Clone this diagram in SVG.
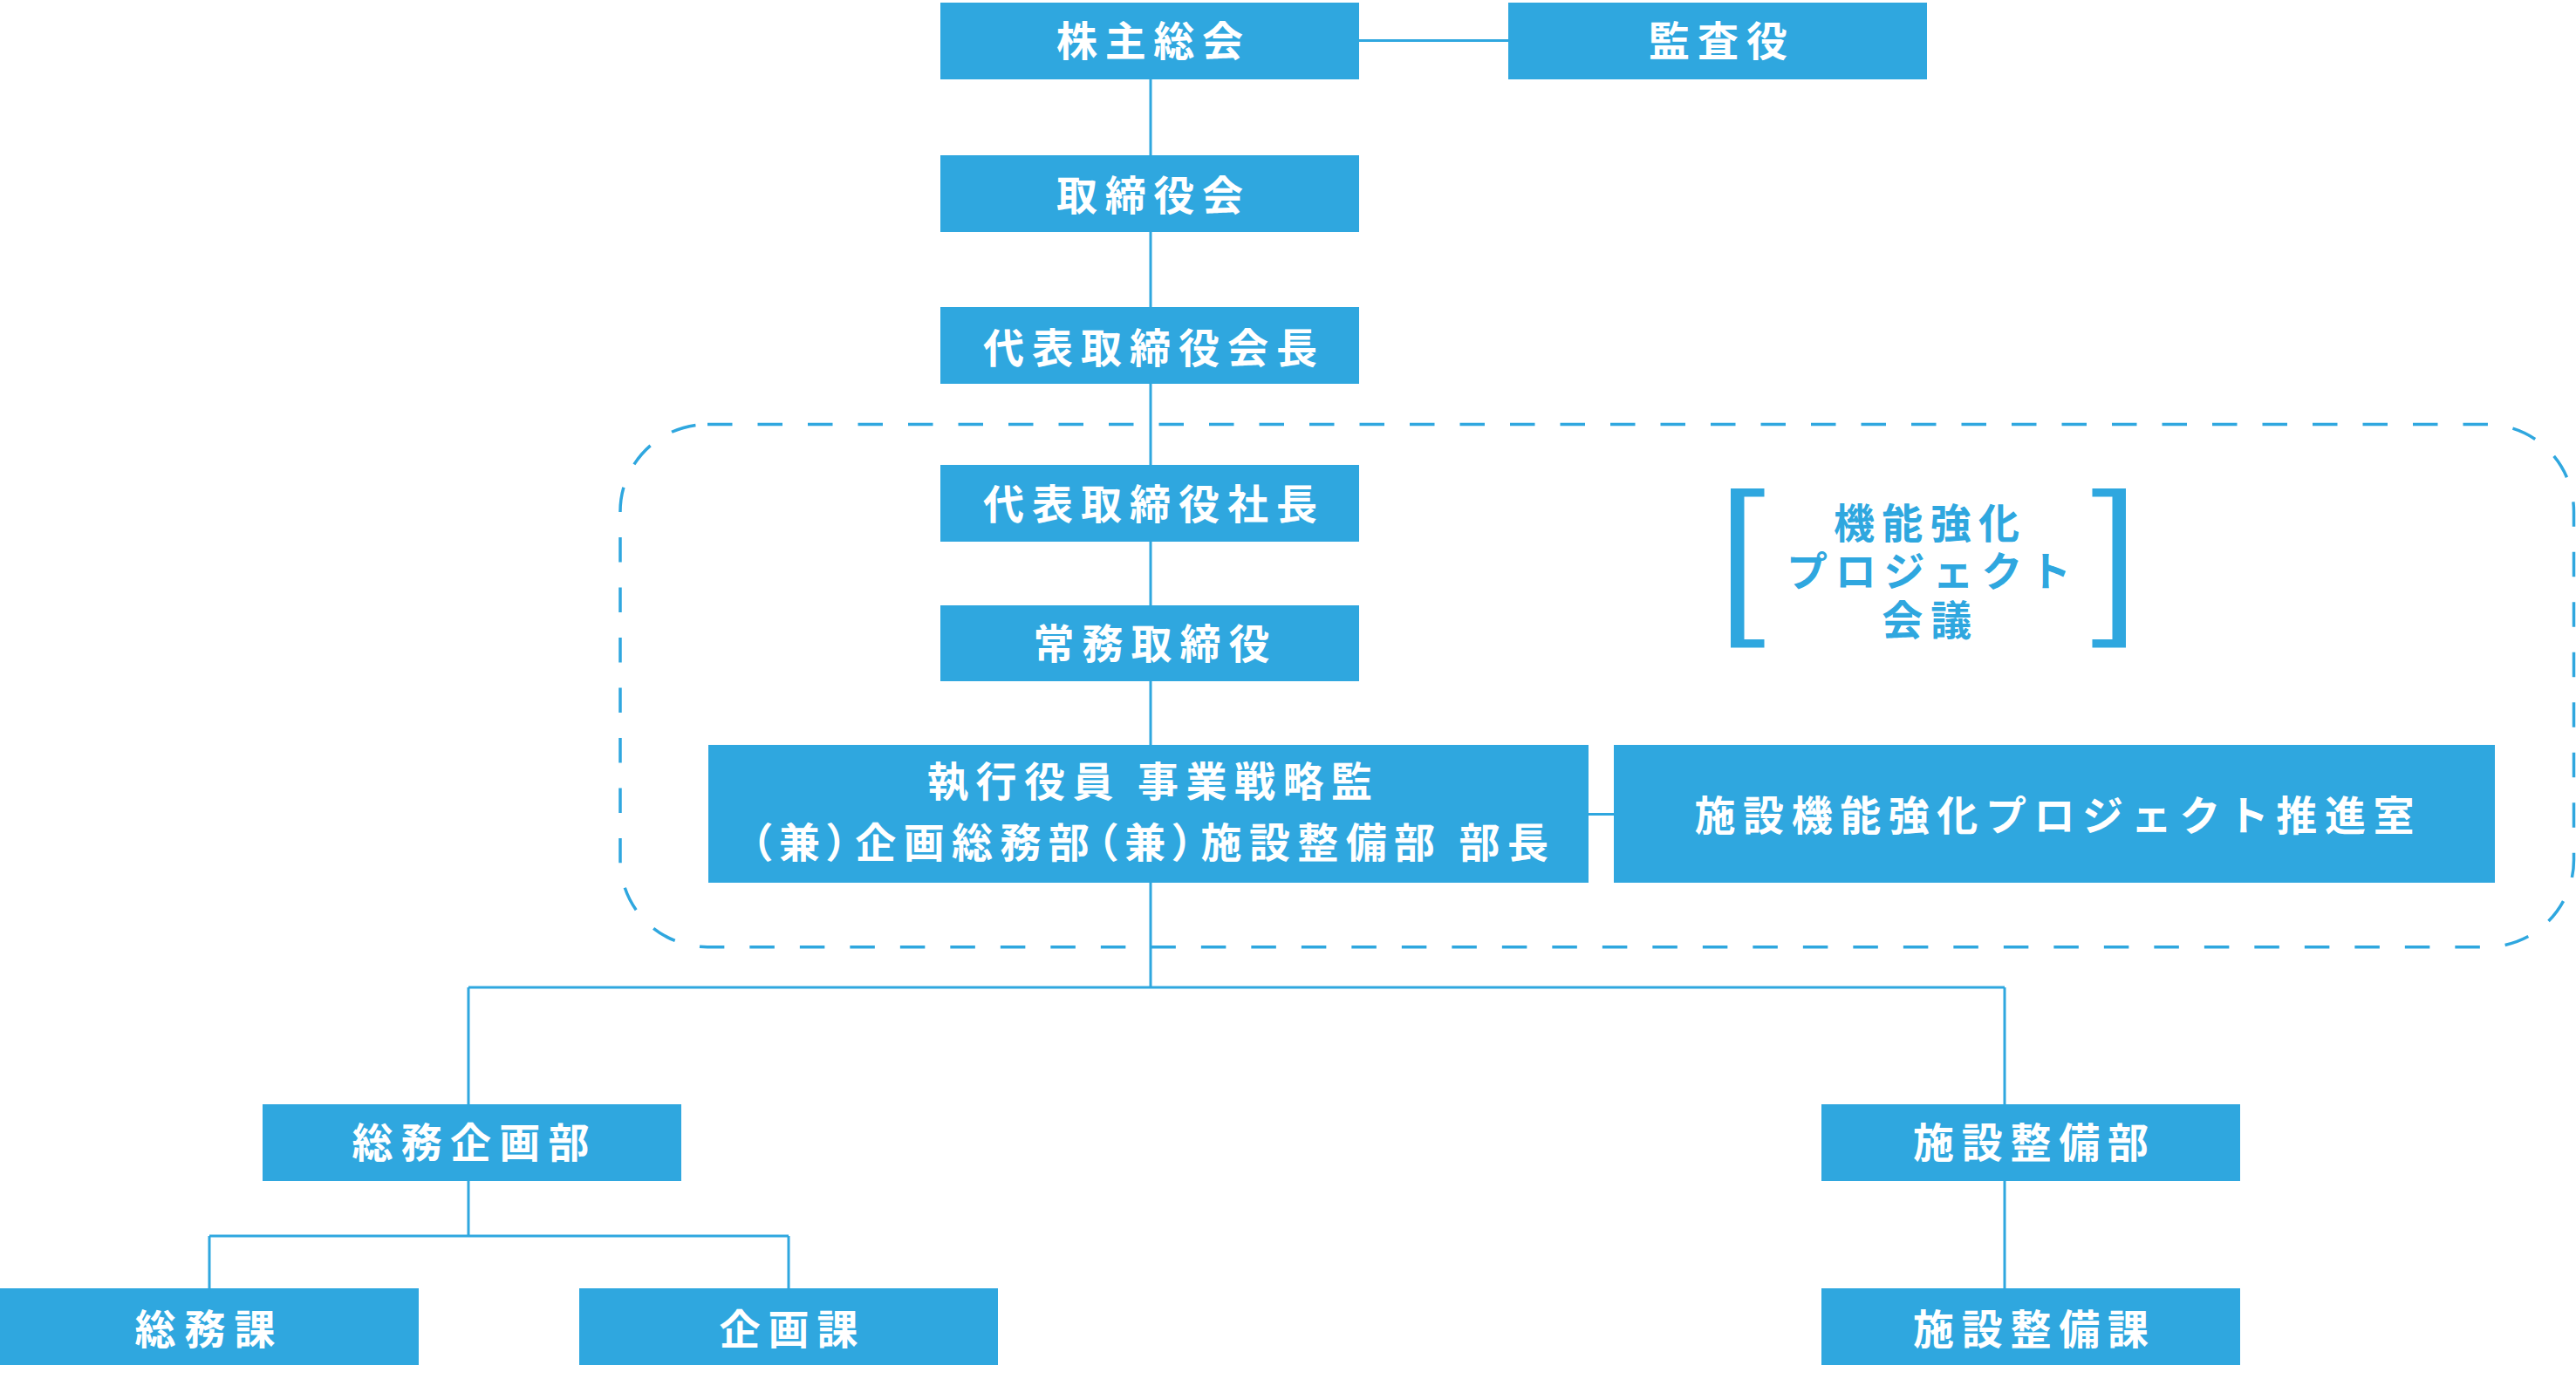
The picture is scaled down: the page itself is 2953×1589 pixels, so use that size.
<svg xmlns="http://www.w3.org/2000/svg" width="2953" height="1589" viewBox="0 0 2953 1589">
<style>
.box{fill:#2fa7df}
.t{font-family:"Noto Sans CJK JP","Noto Sans CJK SC",sans-serif;font-weight:700;font-size:47px;fill:#ffffff;text-anchor:middle}
.b{fill:#2fa7df}
.ln{stroke:#2fa7df;stroke-width:3;fill:none}
.dash{stroke:#2fa7df;stroke-width:3.5;fill:none;stroke-dasharray:28.5 29}
.palt{font-feature-settings:"palt"}
</style>
<rect width="2953" height="1589" fill="#ffffff"/>
<g id="project-frame">
<rect class="dash" x="711" y="486.5" width="2239.5" height="599.2" rx="100" ry="100"/>
</g>
<g id="connectors">
<path class="ln" d="M1558,46.5 H1729"/>
<path class="ln" d="M1319,91 V1132"/>
<path class="ln" d="M1821,933.5 H1850"/>
<path class="ln" d="M537,1132 H2298"/>
<path class="ln" d="M537,1132 V1266"/>
<path class="ln" d="M2298,1132 V1266"/>
<path class="ln" d="M2298,1354 V1477"/>
<path class="ln" d="M537,1354 V1417"/>
<path class="ln" d="M240,1417 H904"/>
<path class="ln" d="M240,1417 V1477"/>
<path class="ln" d="M904,1417 V1477"/>
</g>
<g id="n-kabunushi"><rect class="box" x="1078" y="3" width="480" height="88"/><text class="t" x="1318" y="64.4" textLength="214" lengthAdjust="spacing">株主総会</text></g>
<g id="n-kansayaku"><rect class="box" x="1729" y="3" width="480" height="88"/><text class="t" x="1969.5" y="64.4" textLength="159" lengthAdjust="spacing">監査役</text></g>
<g id="n-torishimariyakukai"><rect class="box" x="1078" y="178" width="480" height="88"/><text class="t" x="1318" y="240.9" textLength="214" lengthAdjust="spacing">取締役会</text></g>
<g id="n-kaicho"><rect class="box" x="1078" y="352" width="480" height="88"/><text class="t" x="1318.5" y="415.9" textLength="383" lengthAdjust="spacing">代表取締役会長</text></g>
<g id="n-shacho"><rect class="box" x="1078" y="533" width="480" height="88"/><text class="t" x="1318.5" y="594.9" textLength="383" lengthAdjust="spacing">代表取締役社長</text></g>
<g id="n-jomu"><rect class="box" x="1078" y="694" width="480" height="87"/><text class="t" x="1320" y="755.4" textLength="271" lengthAdjust="spacing">常務取締役</text></g>
<g id="n-shikko">
<rect class="box" x="812" y="854" width="1009" height="158"/>
<text class="t" x="1318" y="912.9" textLength="510" lengthAdjust="spacing">執行役員 事業戦略監</text>
<text class="t" x="1318" y="982.9" textLength="914" lengthAdjust="spacing"><tspan class="palt">（</tspan>兼<tspan class="palt">）</tspan>企画総務部<tspan class="palt">（</tspan>兼<tspan class="palt">）</tspan>施設整備部 部長</text>
</g>
<g id="n-suishinshitsu"><rect class="box" x="1850" y="854" width="1010" height="158"/><text class="t" x="2355" y="952.4" textLength="825" lengthAdjust="spacing">施設機能強化プロジェクト推進室</text></g>
<g id="n-kaigi">
<path class="b" d="M1984,560 H2022.5 V569.5 H1999.5 V733 H2022.5 V742.5 H1984 Z"/>
<path class="b" d="M2437,560 H2398.5 V569.5 H2421.5 V733 H2398.5 V742.5 H2437 Z"/>
<text class="t" style="fill:#2fa7df"><tspan x="2208.5" y="617.4" textLength="213" lengthAdjust="spacing">機能強化</tspan><tspan x="2211" y="671.9" textLength="326" lengthAdjust="spacing">プロジェクト</tspan><tspan x="2208.8" y="727.6" textLength="103" lengthAdjust="spacing">会議</tspan></text>
</g>
<g id="n-somukikakubu"><rect class="box" x="301" y="1266" width="480" height="88"/><text class="t" x="539.4" y="1326.9" textLength="272" lengthAdjust="spacing">総務企画部</text></g>
<g id="n-shisetsubu"><rect class="box" x="2088" y="1266" width="480" height="88"/><text class="t" x="2328" y="1326.9" textLength="270" lengthAdjust="spacing">施設整備部</text></g>
<g id="n-somuka"><rect class="box" x="0" y="1477" width="480" height="88"/><text class="t" x="235" y="1540.9" textLength="161" lengthAdjust="spacing">総務課</text></g>
<g id="n-kikakuka"><rect class="box" x="664" y="1477" width="480" height="88"/><text class="t" x="904" y="1540.9" textLength="159" lengthAdjust="spacing">企画課</text></g>
<g id="n-shisetsuka"><rect class="box" x="2088" y="1477" width="480" height="88"/><text class="t" x="2328" y="1540.9" textLength="270" lengthAdjust="spacing">施設整備課</text></g>
</svg>
